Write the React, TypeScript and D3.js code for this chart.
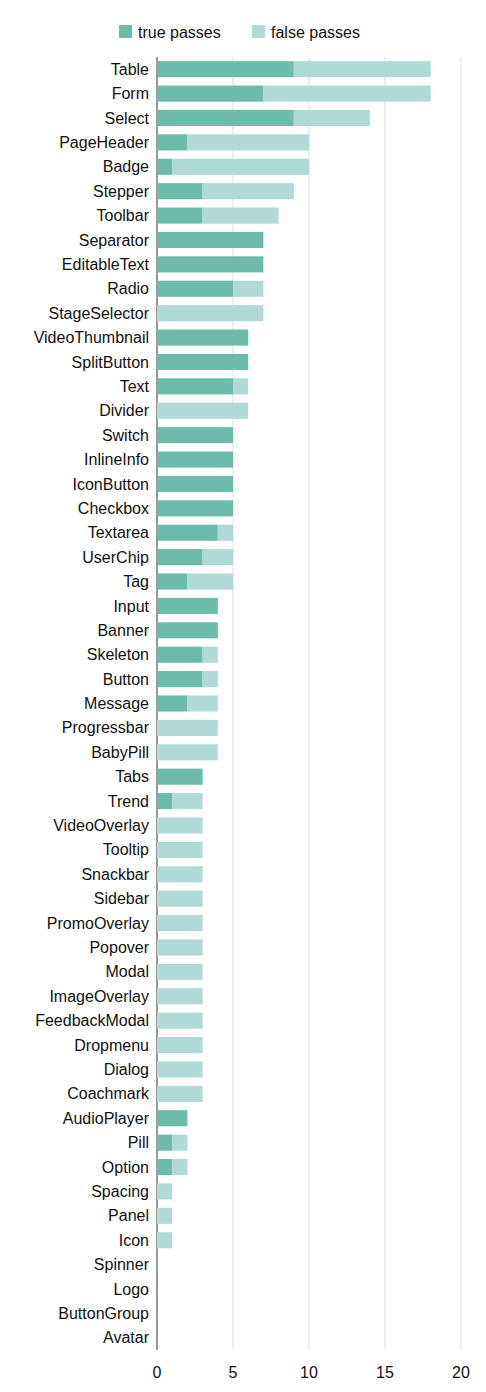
import React from "react";
import * as d3 from "d3";

const categories = ["Table","Form","Select","PageHeader","Badge","Stepper","Toolbar","Separator","EditableText","Radio","StageSelector","VideoThumbnail","SplitButton","Text","Divider","Switch","InlineInfo","IconButton","Checkbox","Textarea","UserChip","Tag","Input","Banner","Skeleton","Button","Message","Progressbar","BabyPill","Tabs","Trend","VideoOverlay","Tooltip","Snackbar","Sidebar","PromoOverlay","Popover","Modal","ImageOverlay","FeedbackModal","Dropmenu","Dialog","Coachmark","AudioPlayer","Pill","Option","Spacing","Panel","Icon","Spinner","Logo","ButtonGroup","Avatar"];
const truePasses = [9,7,9,2,1,3,3,7,7,5,0,6,6,5,0,5,5,5,5,4,3,2,4,4,3,3,2,0,0,3,1,0,0,0,0,0,0,0,0,0,0,0,0,2,1,1,0,0,0,0,0,0,0];
const falsePasses = [9,11,5,8,9,6,5,0,0,2,7,0,0,1,6,0,0,0,0,1,2,3,0,0,1,1,2,4,4,0,2,3,3,3,3,3,3,3,3,3,3,3,3,0,1,1,1,1,1,0,0,0,0];
const xTicks = [0, 5, 10, 15, 20];
const seriesNames = ["true passes", "false passes"];
const colors = ["#6dbba9", "#b0dad5"];

export default function App() {
  const W = 486, H = 1392;
  const x = d3.scaleLinear().domain([0, 20]).range([157, 461]);
  const y = d3.scaleBand().domain(categories).range([57, 1350]).paddingInner(0.34).paddingOuter(0.17);
  const font = "'Liberation Sans', Arial, sans-serif";
  return (
    <div style={{ position: "absolute", left: 0, top: 0 }}>
      <svg width={W} height={H} style={{ display: "block", fontFamily: font }}>
        <rect width={W} height={H} fill="#fff" />
        {xTicks.map((t) => (
          <line key={t} x1={x(t)} x2={x(t)} y1={57} y2={1350} stroke={t === 0 ? "#333" : "#ddd"} strokeWidth={1} />
        ))}
        {categories.map((c, i) => {
          const yy = y(c)!;
          return (
            <g key={c}>
              {truePasses[i] > 0 && (
                <rect x={x(0)} y={yy} width={x(truePasses[i]) - x(0)} height={y.bandwidth()} fill={colors[0]} />
              )}
              {falsePasses[i] > 0 && (
                <rect x={x(truePasses[i])} y={yy} width={x(falsePasses[i]) - x(0)} height={y.bandwidth()} fill={colors[1]} />
              )}
              <text x={149} y={yy + y.bandwidth() / 2} dy="0.35em" textAnchor="end" fontSize={16} fill="#111">{c}</text>
            </g>
          );
        })}
        {xTicks.map((t) => (
          <text key={t} x={x(t)} y={1378} textAnchor="middle" fontSize={16} fill="#111">{t}</text>
        ))}
        {seriesNames.map((s, i) => {
          const lx = [119, 252][i];
          return (
            <g key={s}>
              <rect x={lx} y={25} width={13} height={13} fill={colors[i]} />
              <text x={lx + 19} y={32} dy="0.35em" fontSize={16} fill="#111">{s}</text>
            </g>
          );
        })}
      </svg>
    </div>
  );
}
